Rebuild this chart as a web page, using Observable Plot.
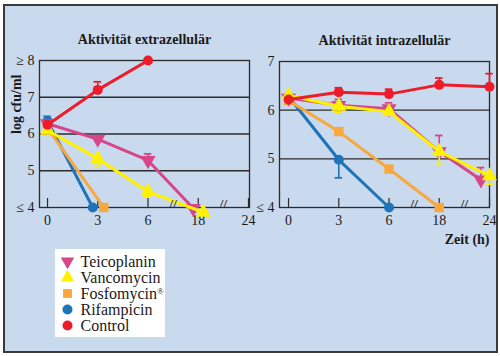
<!DOCTYPE html>
<html>
<head>
<meta charset="utf-8">
<script src="https://cdn.jsdelivr.net/npm/d3@7"></script>
<script src="https://cdn.jsdelivr.net/npm/@observablehq/plot@0.6"></script>
<style>
  html, body { margin: 0; padding: 0; background: #fff; }
  #chart { position: relative; width: 500px; height: 356px; background: #fff; overflow: hidden; font-family: 'Liberation Serif', serif; }
  #bg { position: absolute; left: 3px; top: 4px; width: 491px; height: 345px; background: #c9d9ee; border: 2px solid #3a3a3a; }
  .pane { position: absolute; }
  #legend { position: absolute; left: 55px; top: 249px; width: 110px; height: 88px; background: #fff; }
  #chart svg text { font-family: 'Liberation Serif', serif; }
</style>
</head>
<body>
<div id="chart"><div id="bg"></div></div>
<script>
// ---------- data ----------
const times = [0, 3, 6, 18, 24];
const seriesNames = ["Teicoplanin", "Vancomycin", "Fosfomycin®", "Rifampicin", "Control"];
const seriesColors = ["#d8468a", "#fff100", "#f8a83c", "#1f74b9", "#ec1c2a"];
const drawOrder = ["Rifampicin", "Fosfomycin®", "Teicoplanin", "Vancomycin", "Control"];

// Aktivität extrazellulär (log cfu/ml), per time in `times`
const extraTeicoplanin = [6.28, 5.86, 5.28, 3.98, null];
const extraVancomycin  = [6.10, 5.33, 4.43, 3.87, null];
const extraFosfomycin  = [6.16, 4.00, null, null, null];
const extraRifampicin  = [6.35, 4.00, null, null, null];
const extraControl     = [6.25, 7.20, 8.00, null, null];

// Aktivität intrazellulär (log cfu/ml)
const intraTeicoplanin = [6.25, 6.10, 6.03, 5.15, 4.57];
const intraVancomycin  = [6.30, 6.08, 5.97, 5.15, 4.65];
const intraFosfomycin  = [6.20, 5.56, 4.79, 4.00, null];
const intraRifampicin  = [6.28, 4.98, 4.00, null, null];
const intraControl     = [6.22, 6.37, 6.33, 6.52, 6.48];

// error bars: [series, time, bound]
const extraErrors = [
  ["Control", 3, 7.42], ["Teicoplanin", 6, 5.46], ["Vancomycin", 3, 5.14],
  ["Vancomycin", 6, 4.30], ["Rifampicin", 0, 6.48]
];
const intraErrors = [
  ["Control", 3, 6.46], ["Control", 6, 6.43], ["Control", 18, 6.66], ["Control", 24, 6.75],
  ["Teicoplanin", 3, 6.22], ["Teicoplanin", 6, 6.15], ["Teicoplanin", 18, 5.48], ["Teicoplanin", 24, 4.82],
  ["Vancomycin", 3, 5.95], ["Vancomycin", 18, 4.90], ["Vancomycin", 24, 4.48],
  ["Rifampicin", 3, 4.61]
];

const extraYTicks = [4, 5, 6, 7, 8];
const extraYLabels = ["≤ 4", "5", "6", "7", "≥ 8"];
const intraYTicks = [4, 5, 6, 7];
const intraYLabels = ["≤ 4", "5", "6", "7"];
const xTickLabels = ["0", "3", "6", "18", "24"];

// ---------- helpers ----------
const FONT = "'Liberation Serif', serif";
const INK = "#2b2b2b";
const triDown = {
  draw(context, size) {
    const y = -Math.sqrt(size / (Math.sqrt(3) * 3));
    const s = Math.sqrt(3);
    context.moveTo(0, -y * 2);
    context.lineTo(-s * y, y);
    context.lineTo(s * y, y);
    context.closePath();
  }
};
const seriesSymbols = [triDown, "triangle", "square", "circle", "circle"];
const symbolOf = name => seriesSymbols[seriesNames.indexOf(name)];
const colorOf = name => seriesColors[seriesNames.indexOf(name)];
const sizeOf = name => name === "Fosfomycin®" ? 5.3 : (symbolOf(name) === "circle" ? 5 : 5.6);

function buildRows(valuesBySeries) {
  const rows = [];
  seriesNames.forEach((s, k) => {
    valuesBySeries[k].forEach((v, i) => {
      if (v != null) rows.push({series: s, t: times[i], i, v});
    });
  });
  return rows;
}
const extraRows = buildRows([extraTeicoplanin, extraVancomycin, extraFosfomycin, extraRifampicin, extraControl]);
const intraRows = buildRows([intraTeicoplanin, intraVancomycin, intraFosfomycin, intraRifampicin, intraControl]);

// small horizontal nudges used in the original to separate overlapping markers (in category units)
const extraNudge = {"Rifampicin|3": -0.1, "Fosfomycin®|3": 0.12, "Teicoplanin|18": -0.1, "Vancomycin|18": 0.1};
const intraNudge = {"Teicoplanin|24": -0.17};

function panel({rows, errors, nudge, yTicks, yLabels, xDomain, width, height, margins, title, ylabel, xlabel}) {
  const [mt, mr, mb, ml] = margins;
  const frameH = height - mt - mb;
  const xpos = (s, t) => times.indexOf(t) + (nudge[s + "|" + t] || 0);
  const errRows = errors.map(([s, t, b]) => {
    const r = rows.find(d => d.series === s && d.t === t);
    return {series: s, t, v: r.v, b};
  });
  const marks = [
    Plot.ruleY(yTicks.slice(1, -1), {stroke: INK, strokeWidth: 1.3}),
    Plot.frame({stroke: INK, strokeWidth: 1.3}),
    Plot.tickX(times.map((t, i) => i), {x: d => d, insetTop: frameH - 9, stroke: INK, strokeWidth: 1.2}),
    Plot.axisY({ticks: yTicks, tickFormat: d => yLabels[yTicks.indexOf(d)], tickSize: 0, tickPadding: 5, fontSize: 14, label: null}),
    Plot.axisX({ticks: times.map((t, i) => i), tickFormat: i => xTickLabels[i], tickSize: 0, tickPadding: 8, fontSize: 14, label: null})
  ];
  for (const s of drawOrder) {
    const sr = rows.filter(d => d.series === s);
    const se = errRows.filter(d => d.series === s);
    marks.push(
      Plot.line(sr, {x: d => xpos(d.series, d.t), y: "v", stroke: colorOf(s), strokeWidth: 3}),
      Plot.ruleX(se, {x: d => xpos(d.series, d.t), y1: "v", y2: "b", stroke: colorOf(s), strokeWidth: 1.6}),
      Plot.ruleY(se, {x1: d => xpos(d.series, d.t) - 0.075, x2: d => xpos(d.series, d.t) + 0.075, y: "b", stroke: colorOf(s), strokeWidth: 1.8}),
      Plot.dot(sr, {x: d => xpos(d.series, d.t), y: "v", symbol: symbolOf(s), fill: colorOf(s), r: sizeOf(s)})
    );
  }
  marks.push(Plot.text([2.5, 3.5], {x: d => d, frameAnchor: "bottom", text: () => "//", fontSize: 13, fontWeight: "bold", fill: INK, fontFamily: FONT}));
  marks.push(Plot.text([title], {frameAnchor: "top", dy: -26, fontSize: 14, fontWeight: "bold", fill: "#1a1a1a", fontFamily: FONT}));
  if (ylabel) marks.push(Plot.text([ylabel], {frameAnchor: "left", dx: -23, rotate: -90, fontSize: 14, fontWeight: "bold", fill: "#1a1a1a", fontFamily: FONT}));
  if (xlabel) marks.push(Plot.text([xlabel], {frameAnchor: "bottom-right", dy: 36, textAnchor: "end", fontSize: 14, fontWeight: "bold", fill: "#1a1a1a", fontFamily: FONT}));
  return Plot.plot({
    width, height,
    marginTop: mt, marginRight: mr, marginBottom: mb, marginLeft: ml,
    style: {fontFamily: FONT, fontSize: "14px", color: "#1a1a1a", background: "transparent", overflow: "visible"},
    x: {type: "linear", domain: xDomain},
    y: {domain: [yTicks[0], yTicks[yTicks.length - 1]]},
    marks
  });
}

const chart = document.getElementById("chart");

const left = panel({
  rows: extraRows, errors: extraErrors, nudge: extraNudge,
  yTicks: extraYTicks, yLabels: extraYLabels, xDomain: [-0.16, 4.02],
  width: 252, height: 240, margins: [60, 3, 33, 39],
  title: "Aktivität extrazellulär", ylabel: "log cfu/ml"
});
left.classList.add("pane");
left.style.left = "0px"; left.style.top = "0px";
chart.appendChild(left);

const right = panel({
  rows: intraRows, errors: intraErrors, nudge: intraNudge,
  yTicks: intraYTicks, yLabels: intraYLabels, xDomain: [-0.18, 4.0],
  width: 250, height: 250, margins: [61, 11, 43, 29],
  title: "Aktivität intrazellulär", xlabel: "Zeit (h)"
});
right.classList.add("pane");
right.style.left = "250px"; right.style.top = "0px";
chart.appendChild(right);

// legend
const legendDiv = document.createElement("div");
legendDiv.id = "legend";
const legend = Plot.plot({
  width: 110, height: 88, margin: 0,
  style: {fontFamily: FONT, background: "transparent"},
  y: {type: "point", domain: seriesNames, range: [10, 77], padding: 0, axis: null},
  marks: [
    Plot.dot(seriesNames, {y: d => d, frameAnchor: "left", dx: 12, symbol: d => symbolOf(d), fill: d => colorOf(d), r: 5}),
    Plot.text(seriesNames, {y: d => d, frameAnchor: "left", dx: 25, text: d => d, textAnchor: "start", fontSize: 16, fill: "#1a1a1a", fontFamily: FONT})
  ]
});
// render the registered sign as a small superscript, as in the original
legend.querySelectorAll("text").forEach(t => {
  if (t.textContent.includes("®")) {
    const base = t.textContent.replace("®", "");
    t.textContent = base;
    const sup = document.createElementNS("http://www.w3.org/2000/svg", "tspan");
    sup.setAttribute("font-size", "9");
    sup.setAttribute("dy", "-5");
    sup.textContent = "®";
    t.appendChild(sup);
  }
});
legendDiv.appendChild(legend);
chart.appendChild(legendDiv);
</script>
</body>
</html>
